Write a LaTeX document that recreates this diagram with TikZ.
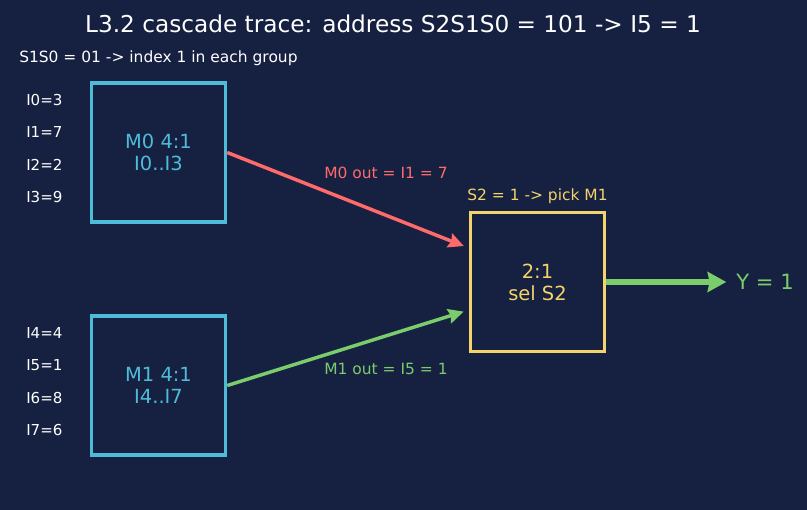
\documentclass[tikz,border=0pt]{standalone}
\usepackage{fontspec}
\setmainfont{DejaVu Sans}
\usetikzlibrary{arrows.meta,positioning,calc}
\definecolor{bgnavy}{HTML}{162040}
\definecolor{muxcyan}{HTML}{4EBCD9}
\definecolor{selyellow}{HTML}{F4D36B}
\definecolor{pathred}{HTML}{FF6B6B}
\definecolor{pathgreen}{HTML}{7ACC6C}

\begin{document}
\begin{tikzpicture}
    [x=0.75pt, y=-0.75pt, node distance = 4pt,
      mux/.style={rectangle, draw=muxcyan, line width=2.6pt, text=muxcyan, minimum width=100.5pt, minimum height=104pt, align=center, font=\fontsize{14.6}{16.5}\selectfont},
      sel/.style={mux, draw=selyellow, text=selyellow},
      inval/.style={anchor=west, text=white, inner sep=0pt, font=\fontsize{11.3}{13}\selectfont},
      note/.style={font=\fontsize{11.6}{13}\selectfont, inner sep=1pt},
      darc/.style={-{Stealth[length=11.5pt, width=11pt, inset=1.5pt]}, line width=2.6pt, shorten >=4pt},
      oarc/.style={-{Stealth[length=14pt, width=15pt, inset=1.5pt]}, line width=4.4pt, shorten >=4pt}]

    \fill[bgnavy] (0,0) rectangle (807,510);

    \node (title) at (393,24) [text=white, font=\fontsize{17.4}{20}\selectfont] {L3.2 cascade trace: address S2S1S0 = 101 -> I5 = 1};
    \node (sub) at (19,58) [anchor=west, inner sep=0pt, text=white, font=\fontsize{11.6}{13}\selectfont] {S1S0 = 01 -> index 1 in each group};

    \node (m0) at (158.5,152.5) [mux] {M0 4:1\\I0..I3};
    \node (m1) at (158.5,385.5) [mux] {M1 4:1\\I4..I7};
    \node (mux) at (537.5,282) [sel] {2:1\\sel S2};
    \node (sellbl) [above=of mux, note, text=selyellow] {S2 = 1 -> pick M1};

    \foreach \i/\v [count=\k from 0] in {0/3,1/7,2/2,3/9}
      \node (in\i) at (26,100+32.3*\k) [inval] {I\i=\v};
    \foreach \i/\v [count=\k from 0] in {4/4,5/1,6/8,7/6}
      \node (in\i) at (26,333+32.3*\k) [inval] {I\i=\v};

    \draw[darc, pathred] (m0.east) -- ($(mux.west)+(0,-34)$);
    \draw[darc, pathgreen] (m1.east) -- ($(mux.west)+(0,28)$);
    \node (lbl0) at (386,173) [note, text=pathred] {M0 out = I1 = 7};
    \node (lbl1) at (386,369) [note, text=pathgreen] {M1 out = I5 = 1};

    \node (yout) at (765,282) [text=pathgreen, font=\fontsize{15.8}{18}\selectfont] {Y = 1};
    \draw[oarc, pathgreen] (mux.east) -- (yout.west);
  \end{tikzpicture}
\end{document}
